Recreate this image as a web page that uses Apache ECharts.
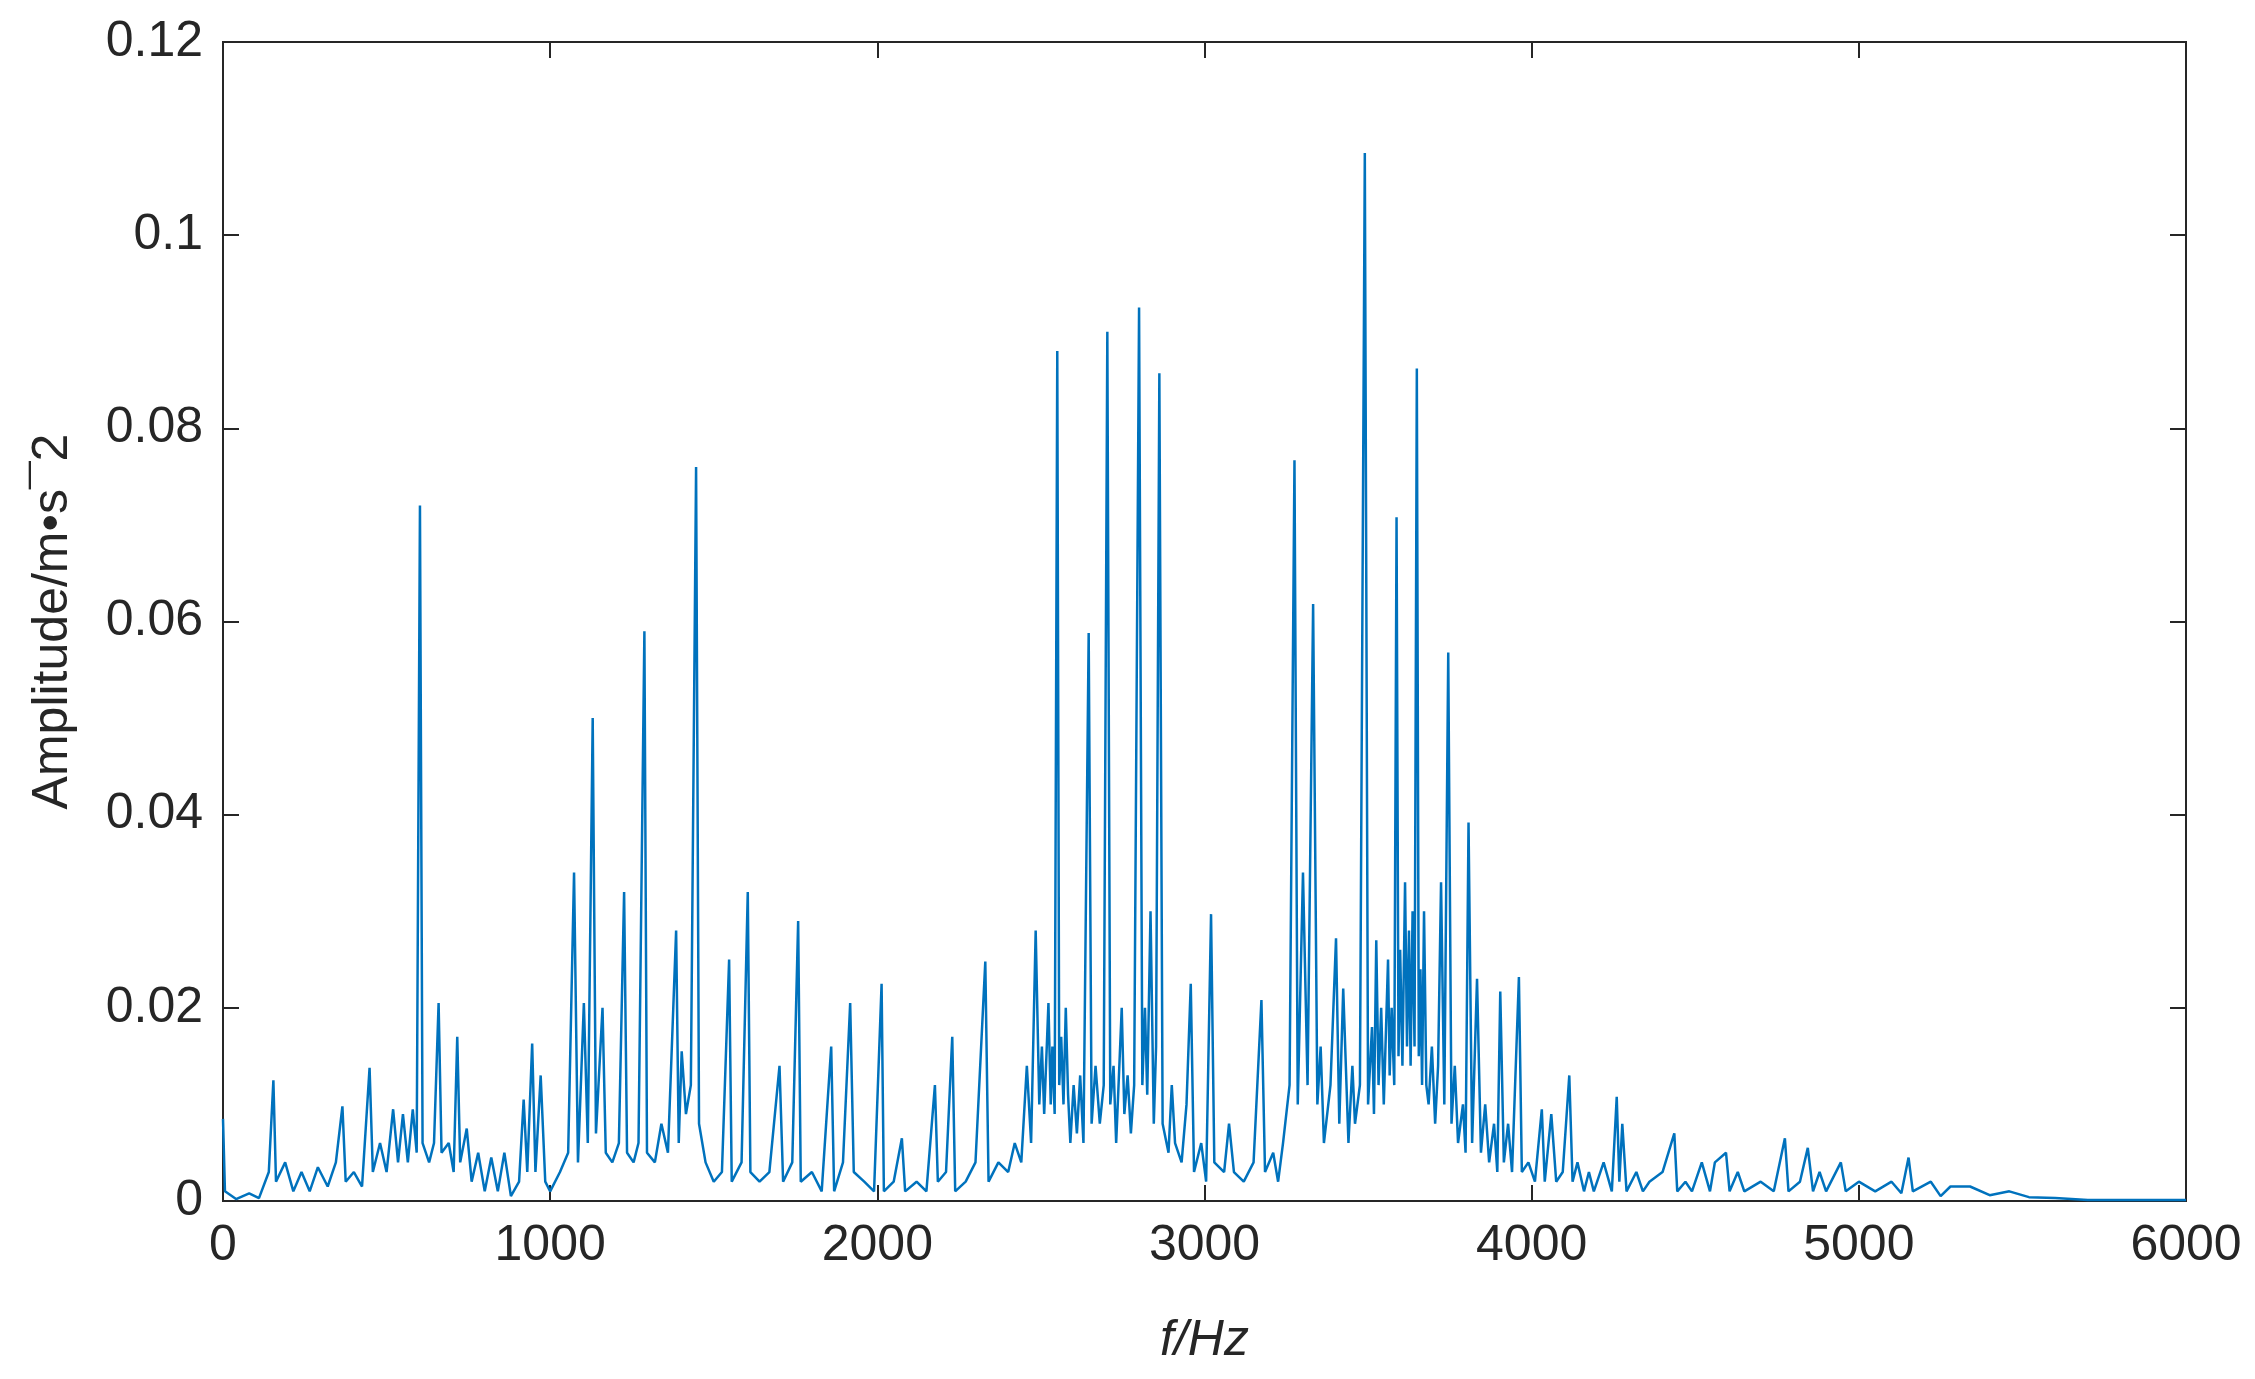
<!DOCTYPE html>
<html>
<head>
<meta charset="utf-8">
<script src="https://cdn.jsdelivr.net/npm/echarts@6/dist/echarts.min.js"></script>
<style>html,body{margin:0;background:#fff}#c{width:2255px;height:1379px}</style>
</head>
<body>
<div id="c"></div>
<script>
// [frequency Hz, amplitude m/s^2]
const band0to1000 = [
  [0, 0.0085], [6, 0.001], [40, 0.0002], [80, 0.0008], [110, 0.0003], [140, 0.003], [154, 0.0125], [162, 0.002],
  [190, 0.004], [215, 0.001], [240, 0.003], [265, 0.001], [290, 0.0035], [320, 0.0015], [345, 0.004], [365, 0.0098],
  [375, 0.002], [400, 0.003], [425, 0.0015], [448, 0.0138], [458, 0.003], [480, 0.006], [500, 0.003], [520, 0.0095],
  [535, 0.004], [550, 0.009], [565, 0.004], [580, 0.0095], [592, 0.005], [602, 0.072], [610, 0.006], [630, 0.004],
  [645, 0.006], [659, 0.0205], [668, 0.005], [690, 0.006], [705, 0.003], [716, 0.017], [725, 0.004], [745, 0.0075],
  [760, 0.002], [780, 0.005], [800, 0.001], [820, 0.0045], [840, 0.001], [860, 0.005], [880, 0.0005], [905, 0.002],
  [919, 0.0105], [930, 0.003], [945, 0.0163], [955, 0.003], [971, 0.013], [985, 0.002]
];
const band1000to2400 = [
  [1000, 0.001], [1030, 0.003], [1055, 0.005], [1073, 0.034], [1085, 0.004], [1103, 0.0205], [1115, 0.006], [1130, 0.050],
  [1140, 0.007], [1160, 0.020], [1170, 0.005], [1190, 0.004], [1210, 0.006], [1226, 0.032], [1235, 0.005], [1255, 0.004],
  [1270, 0.006], [1288, 0.059], [1296, 0.005], [1320, 0.004], [1340, 0.008], [1360, 0.005], [1385, 0.028], [1393, 0.006],
  [1402, 0.0155], [1415, 0.009], [1430, 0.012], [1446, 0.076], [1455, 0.008], [1475, 0.004], [1500, 0.002], [1525, 0.003],
  [1547, 0.025], [1555, 0.002], [1585, 0.004], [1604, 0.032], [1612, 0.003], [1640, 0.002], [1670, 0.003], [1701, 0.014],
  [1712, 0.002], [1740, 0.004], [1758, 0.029], [1766, 0.002], [1800, 0.003], [1830, 0.001], [1859, 0.016], [1868, 0.001],
  [1895, 0.004], [1917, 0.0205], [1928, 0.003], [1960, 0.002], [1990, 0.001], [2013, 0.0225], [2020, 0.001], [2050, 0.002],
  [2075, 0.0065], [2085, 0.001], [2120, 0.002], [2150, 0.001], [2176, 0.012], [2185, 0.002], [2210, 0.003], [2229, 0.017],
  [2238, 0.001], [2270, 0.002], [2300, 0.004], [2330, 0.0248], [2340, 0.002], [2370, 0.004], [2400, 0.003]
];
const band2400to4000 = [
  [2420, 0.006], [2440, 0.004], [2457, 0.014], [2470, 0.006], [2484, 0.028], [2495, 0.010], [2503, 0.016], [2510, 0.009],
  [2523, 0.0205], [2530, 0.010], [2535, 0.016], [2542, 0.009], [2550, 0.088], [2556, 0.012], [2562, 0.017], [2569, 0.010],
  [2576, 0.020], [2583, 0.011], [2590, 0.006], [2600, 0.012], [2610, 0.007], [2620, 0.013], [2630, 0.006], [2646, 0.0588],
  [2655, 0.008], [2667, 0.014], [2680, 0.008], [2692, 0.012], [2703, 0.090], [2712, 0.010], [2722, 0.014], [2730, 0.006],
  [2747, 0.020], [2755, 0.009], [2765, 0.013], [2775, 0.007], [2785, 0.012], [2800, 0.0925], [2810, 0.012], [2818, 0.020],
  [2825, 0.011], [2835, 0.030], [2845, 0.008], [2852, 0.016], [2862, 0.0857], [2872, 0.008], [2890, 0.005], [2900, 0.012],
  [2910, 0.006], [2930, 0.004], [2945, 0.010], [2958, 0.0225], [2968, 0.003], [2990, 0.006], [3005, 0.002], [3020, 0.0297],
  [3030, 0.004], [3060, 0.003], [3075, 0.008], [3090, 0.003], [3120, 0.002], [3150, 0.004], [3174, 0.0208], [3185, 0.003],
  [3210, 0.005], [3225, 0.002], [3240, 0.006], [3260, 0.012], [3275, 0.0767], [3285, 0.010], [3301, 0.034], [3315, 0.012],
  [3332, 0.0618], [3345, 0.010], [3355, 0.016], [3365, 0.006], [3385, 0.012], [3402, 0.0272], [3412, 0.008], [3424, 0.022],
  [3440, 0.006], [3452, 0.014], [3460, 0.008], [3475, 0.012], [3490, 0.1085], [3500, 0.010], [3512, 0.018], [3518, 0.009],
  [3525, 0.027], [3532, 0.012], [3540, 0.020], [3548, 0.010], [3561, 0.025], [3566, 0.013], [3572, 0.020], [3580, 0.012],
  [3587, 0.0708], [3593, 0.015], [3598, 0.026], [3605, 0.014], [3613, 0.033], [3619, 0.016], [3625, 0.028], [3630, 0.014],
  [3636, 0.030], [3642, 0.016], [3649, 0.0862], [3655, 0.015], [3660, 0.024], [3665, 0.012], [3671, 0.030], [3678, 0.012],
  [3685, 0.010], [3695, 0.016], [3705, 0.008], [3714, 0.014], [3723, 0.033], [3733, 0.010], [3745, 0.0568], [3755, 0.008],
  [3765, 0.014], [3775, 0.006], [3790, 0.010], [3798, 0.005], [3807, 0.0392], [3818, 0.006], [3833, 0.023], [3845, 0.005],
  [3858, 0.010], [3870, 0.004], [3885, 0.008], [3895, 0.003], [3904, 0.0217], [3915, 0.004], [3928, 0.008], [3940, 0.003],
  [3961, 0.0232], [3970, 0.003], [3990, 0.004]
];
const band4000to6000 = [
  [4010, 0.002], [4031, 0.0095], [4040, 0.002], [4060, 0.009], [4075, 0.002], [4095, 0.003], [4115, 0.013], [4125, 0.002],
  [4140, 0.004], [4160, 0.001], [4175, 0.003], [4190, 0.001], [4220, 0.004], [4245, 0.001], [4260, 0.0108], [4268, 0.002],
  [4277, 0.008], [4290, 0.001], [4320, 0.003], [4340, 0.001], [4360, 0.002], [4400, 0.003], [4436, 0.007], [4445, 0.001],
  [4470, 0.002], [4490, 0.001], [4520, 0.004], [4545, 0.001], [4560, 0.004], [4594, 0.005], [4605, 0.001], [4630, 0.003],
  [4650, 0.001], [4700, 0.002], [4740, 0.001], [4774, 0.0065], [4785, 0.001], [4820, 0.002], [4844, 0.0055], [4860, 0.001],
  [4880, 0.003], [4900, 0.001], [4945, 0.004], [4960, 0.001], [5000, 0.002], [5050, 0.001], [5100, 0.002], [5130, 0.0008],
  [5152, 0.0045], [5165, 0.001], [5220, 0.002], [5250, 0.0005], [5280, 0.0015], [5340, 0.0015], [5400, 0.0006], [5460, 0.001],
  [5520, 0.0004], [5600, 0.0003], [5700, 0.0001], [5800, 0.0001], [6000, 0.0001]
];
const xTicks = [0, 1000, 2000, 3000, 4000, 5000, 6000];
const yTicks = [0, 0.02, 0.04, 0.06, 0.08, 0.1, 0.12];

const spectrum = band0to1000.concat(band1000to2400, band2400to4000, band4000to6000);
const font = 'Liberation Sans, Arial, sans-serif';
const ink = '#262626';
const boxAxis = { show: true, onZero: false, lineStyle: { color: ink, width: 2 } };
const tickIn = { show: true, inside: true, length: 16, lineStyle: { color: ink, width: 2 } };

const chart = echarts.init(document.getElementById('c'));
chart.setOption({
  animation: false,
  backgroundColor: '#fff',
  grid: { left: 223, right: 69, top: 42, bottom: 178, show: true, borderColor: ink, borderWidth: 2 },
  xAxis: [{
    type: 'value', min: 0, max: 6000, interval: 1000,
    name: 'f/Hz', nameLocation: 'middle', nameGap: 115,
    nameTextStyle: { fontFamily: font, fontSize: 50, fontStyle: 'italic', color: ink },
    axisLine: boxAxis, axisTick: tickIn, splitLine: { show: false },
    axisLabel: { fontFamily: font, fontSize: 50, color: ink, margin: 20, formatter: v => String(v) }
  }, {
    type: 'value', min: 0, max: 6000, interval: 1000, position: 'top',
    axisLine: boxAxis, axisTick: tickIn, axisLabel: { show: false }, splitLine: { show: false }
  }],
  yAxis: [{
    type: 'value', min: 0, max: 0.12, interval: 0.02,
    name: 'Amplitude/m•s¯2', nameLocation: 'middle', nameGap: 145,
    nameTextStyle: { fontFamily: font, fontSize: 50, color: ink },
    axisLine: boxAxis, axisTick: tickIn, splitLine: { show: false },
    axisLabel: { fontFamily: font, fontSize: 50, color: ink, margin: 20,
      formatter: v => (Math.round(v * 100) / 100).toString() }
  }, {
    type: 'value', min: 0, max: 0.12, interval: 0.02, position: 'right',
    axisLine: boxAxis, axisTick: tickIn, axisLabel: { show: false }, splitLine: { show: false }
  }],
  series: [{
    type: 'line', data: spectrum, showSymbol: false,
    lineStyle: { color: '#0072BD', width: 2.5 }
  }, {
    type: 'line', data: [], xAxisIndex: 1, yAxisIndex: 1
  }]
});
</script>
</body>
</html>
